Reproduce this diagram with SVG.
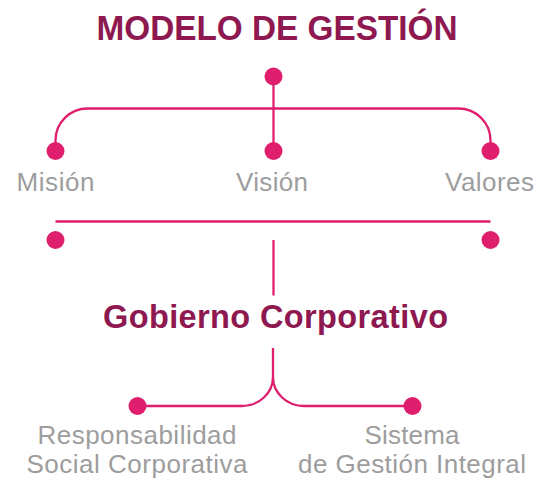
<svg xmlns="http://www.w3.org/2000/svg" width="538" height="481" viewBox="0 0 538 481">
<style>
.title{font-family:"Liberation Sans",Arial,Helvetica,sans-serif;font-weight:bold;fill:#8e1850;text-anchor:middle}
.lbl{font-family:"Liberation Sans",Arial,Helvetica,sans-serif;font-size:26px;fill:#9d9d9d;text-anchor:middle}
.ln{fill:none;stroke:#e01e6e;stroke-width:2.3}
.dot{fill:#e01e6e}
</style>
<rect width="538" height="481" fill="#ffffff"/>
<g id="connectors">
<path class="ln" d="M273.5,76.5 V151"/>
<path class="ln" d="M55.5,151 V140.5 A32,32 0 0 1 87.5,108.5 H458.5 A32,32 0 0 1 490.5,140.5 V151"/>
<path class="ln" d="M55.5,221.5 H490.5"/>
<path class="ln" d="M273.5,240 V295.5"/>
<path class="ln" d="M273,348 V377 A31,29 0 0 1 242,406 H137.5"/>
<path class="ln" d="M273,377 A31,29 0 0 0 304,406 H412.5"/>
</g>
<g id="modelo">
<text class="title" x="277" y="40" font-size="35" textLength="361" lengthAdjust="spacingAndGlyphs">MODELO DE GESTIÓN</text>
<circle class="dot" cx="273.5" cy="76.5" r="9"/>
</g>
<g id="mision">
<circle class="dot" cx="55.5" cy="151" r="9"/>
<text class="lbl" x="55.5" y="191" textLength="78">Misión</text>
<circle class="dot" cx="55.5" cy="240" r="9"/>
</g>
<g id="vision">
<circle class="dot" cx="273.5" cy="151" r="9"/>
<text class="lbl" x="272" y="191" textLength="72">Visión</text>
</g>
<g id="valores">
<circle class="dot" cx="490.5" cy="151" r="9"/>
<text class="lbl" x="489.5" y="191" textLength="89">Valores</text>
<circle class="dot" cx="490.5" cy="240" r="9"/>
</g>
<g id="gobierno">
<text class="title" x="275.5" y="328" font-size="32.5" textLength="345">Gobierno Corporativo</text>
</g>
<g id="rsc">
<circle class="dot" cx="137.5" cy="406" r="9"/>
<text class="lbl" x="137" y="444" textLength="199">Responsabilidad</text>
<text class="lbl" x="137" y="473" textLength="221">Social Corporativa</text>
</g>
<g id="sgi">
<circle class="dot" cx="412.5" cy="406" r="9"/>
<text class="lbl" x="412" y="444" textLength="95">Sistema</text>
<text class="lbl" x="412" y="473" textLength="228">de Gestión Integral</text>
</g>
</svg>
